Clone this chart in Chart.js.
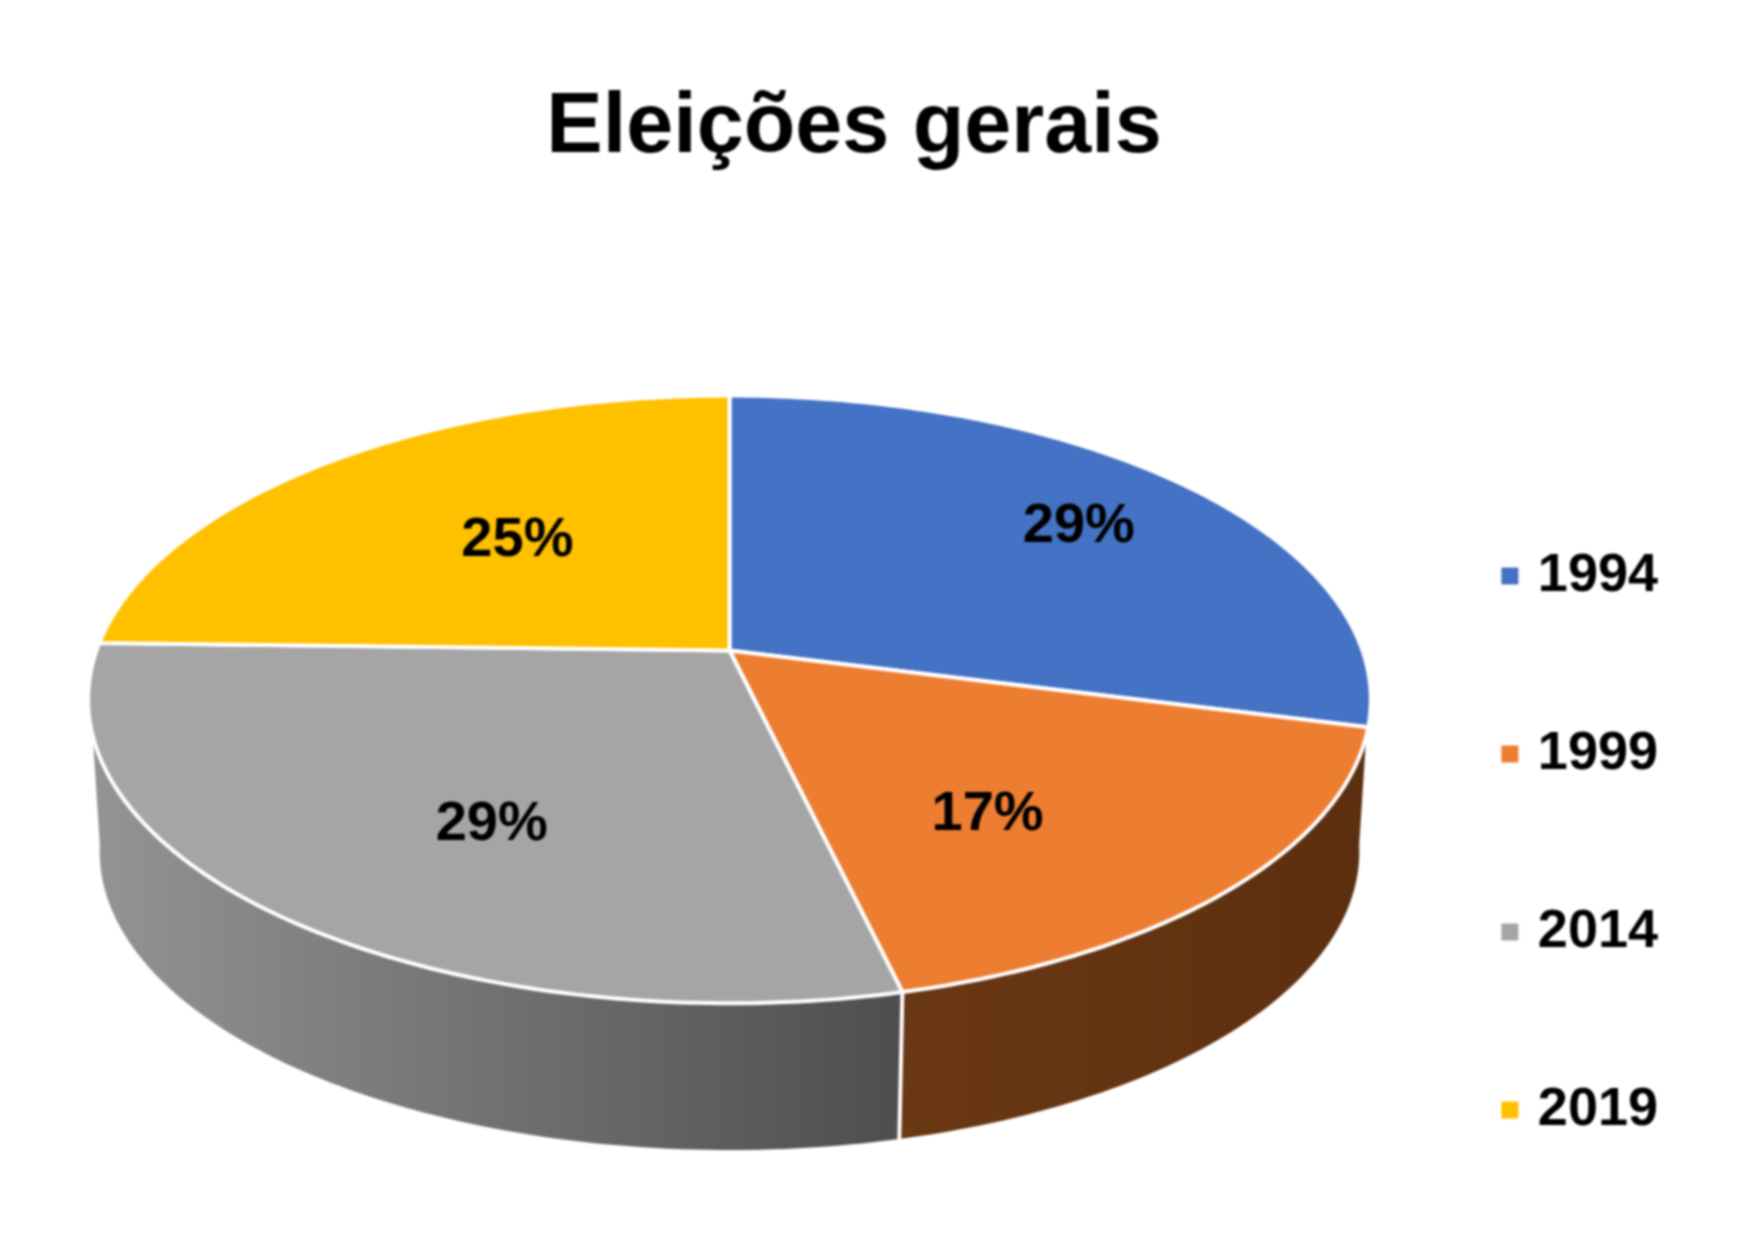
<!DOCTYPE html>
<html><head><meta charset="utf-8">
<style>html,body{margin:0;padding:0;background:#fff}canvas{display:block;filter:blur(0.8px)}</style>
<script src="https://cdn.jsdelivr.net/npm/chart.js@4/dist/chart.umd.min.js"></script>
</head><body>
<canvas id="c" width="1749" height="1241"></canvas>
<script>
const titleText = 'Eleições gerais';
const categories = ['1994', '1999', '2014', '2019'];
const shares = [29, 17.3, 29.1, 24.6];
const topColors = ['#4472C4', '#ED7D31', '#A5A5A5', '#FFC000'];
const legendColors = ['#4472C4', '#ED7D31', '#A5A5A5', '#FFC000'];
const sideStops = [null, ['#6B3814', '#5C2F10'], ['#949494', '#4E4E4E'], null];
// label anchors in pie polar terms: radius fraction, degrees away from slice middle
const labelRadius = [0.75, 0.625, 0.63, 0.54];
const labelTurn = [0, 7.6, -6, 2.9];

// perspective view of the disc
const view = {cx: 729.5, cy: 650.5, a: 633, b: 296, p: 0.161, shrink: 0.982, vy: 9156, sideFrom: 106, sideTo: 254, wrap: 8};
const rad = d => d * Math.PI / 180;
function project(deg, r) {
  const u = Math.sin(rad(deg)) * r, v = -Math.cos(rad(deg)) * r, w = 1 - view.p * v;
  return {x: view.cx + view.a * u / w, y: view.cy + view.b * v / w};
}
function lower(pt) {
  return {x: view.cx + view.shrink * (pt.x - view.cx), y: view.vy - view.shrink * (view.vy - pt.y)};
}
const toDeg = a => (a + Math.PI / 2) * 180 / Math.PI;
function ring(s, e) {
  const out = [];
  for (let d = s; d < e; d += 1) out.push(project(d, 1));
  out.push(project(e, 1));
  return out;
}

// slices are drawn by the library's own arc elements, through the projection
Chart.ArcElement.prototype.draw = function (ctx) {
  const s = toDeg(this.startAngle), e = toDeg(this.endAngle), o = this.options;
  ctx.save();
  ctx.beginPath();
  const c = project(0, 0);
  ctx.moveTo(c.x, c.y);
  ring(s, e).forEach(q => ctx.lineTo(q.x, q.y));
  ctx.closePath();
  ctx.fillStyle = o.backgroundColor;
  ctx.fill();
  ctx.lineWidth = o.borderWidth;
  ctx.strokeStyle = o.borderColor;
  ctx.lineJoin = 'round';
  ctx.stroke();
  ctx.restore();
};

const discPlugin = {
  id: 'disc',
  beforeDatasetsDraw(chart) {
    const ctx = chart.ctx, arcs = chart.getDatasetMeta(0).data;
    arcs.forEach((arc, i) => {
      const stops = sideStops[i];
      if (!stops) return;
      const s0 = toDeg(arc.startAngle), e0 = toDeg(arc.endAngle);
      const s = Math.max(s0, view.sideFrom), e = Math.min(e0, view.sideTo);
      if (e <= s) return;
      // the lower rim wraps slightly further round than the upper one at the silhouette
      const sb = s0 < view.sideFrom ? s - view.wrap : s;
      const eb = e0 > view.sideTo ? e + view.wrap : e;
      const upper = ring(s, e);
      const bottom = ring(sb, eb).map(lower).reverse();
      const all = upper.concat(bottom);
      const xs = all.map(q => q.x);
      const g = ctx.createLinearGradient(Math.min(...xs), 0, Math.max(...xs), 0);
      g.addColorStop(0, stops[0]);
      g.addColorStop(1, stops[1]);
      ctx.save();
      ctx.beginPath();
      all.forEach((q, k) => k ? ctx.lineTo(q.x, q.y) : ctx.moveTo(q.x, q.y));
      ctx.closePath();
      ctx.fillStyle = g;
      ctx.fill();
      ctx.restore();
    });
    // seam between the two visible side walls
    arcs.forEach(arc => {
      const d = toDeg(arc.endAngle);
      if (d > view.sideFrom && d < view.sideTo) {
        const t = project(d, 1), b = lower(t);
        ctx.save();
        ctx.strokeStyle = '#fff'; ctx.lineWidth = 4;
        ctx.beginPath(); ctx.moveTo(t.x, t.y); ctx.lineTo(b.x, b.y); ctx.stroke();
        ctx.restore();
      }
    });
  },
  afterDatasetsDraw(chart) {
    const ctx = chart.ctx, arcs = chart.getDatasetMeta(0).data;
    const total = shares.reduce((a, b) => a + b, 0);
    ctx.save();
    ctx.font = 'bold 56px "Liberation Sans", Arial, sans-serif';
    ctx.fillStyle = '#000';
    ctx.textAlign = 'center';
    ctx.textBaseline = 'middle';
    arcs.forEach((arc, i) => {
      const mid = (toDeg(arc.startAngle) + toDeg(arc.endAngle)) / 2 + labelTurn[i];
      const q = project(mid, labelRadius[i]);
      ctx.fillText(Math.round(shares[i] / total * 100) + '%', q.x, q.y + 3);
    });
    ctx.restore();
  }
};

new Chart(document.getElementById('c'), {
  type: 'pie',
  data: {labels: categories, datasets: [{data: shares, backgroundColor: topColors, borderColor: '#fff', borderWidth: 4}]},
  plugins: [discPlugin],
  options: {
    responsive: false,
    animation: false,
    layout: {padding: {left: 40, right: 81, top: 0, bottom: -20}},
    plugins: {
      tooltip: {enabled: false},
      title: {display: true, text: titleText, color: '#000', align: 'center',
        font: {family: '"Liberation Sans", Arial, sans-serif', size: 84.5, weight: 'bold'},
        padding: {top: 78, bottom: 74}},
      legend: {
        display: true, position: 'right', align: 'end',
        labels: {
          color: '#000',
          font: {family: '"Liberation Sans", Arial, sans-serif', size: 54, weight: 'bold'},
          boxWidth: 2, boxHeight: 2, padding: 124,
          generateLabels: () => categories.map((t, i) => ({
            text: t, fillStyle: legendColors[i], strokeStyle: legendColors[i], lineWidth: 15, hidden: false, index: i
          }))
        }
      }
    }
  }
});
</script>
</body></html>
